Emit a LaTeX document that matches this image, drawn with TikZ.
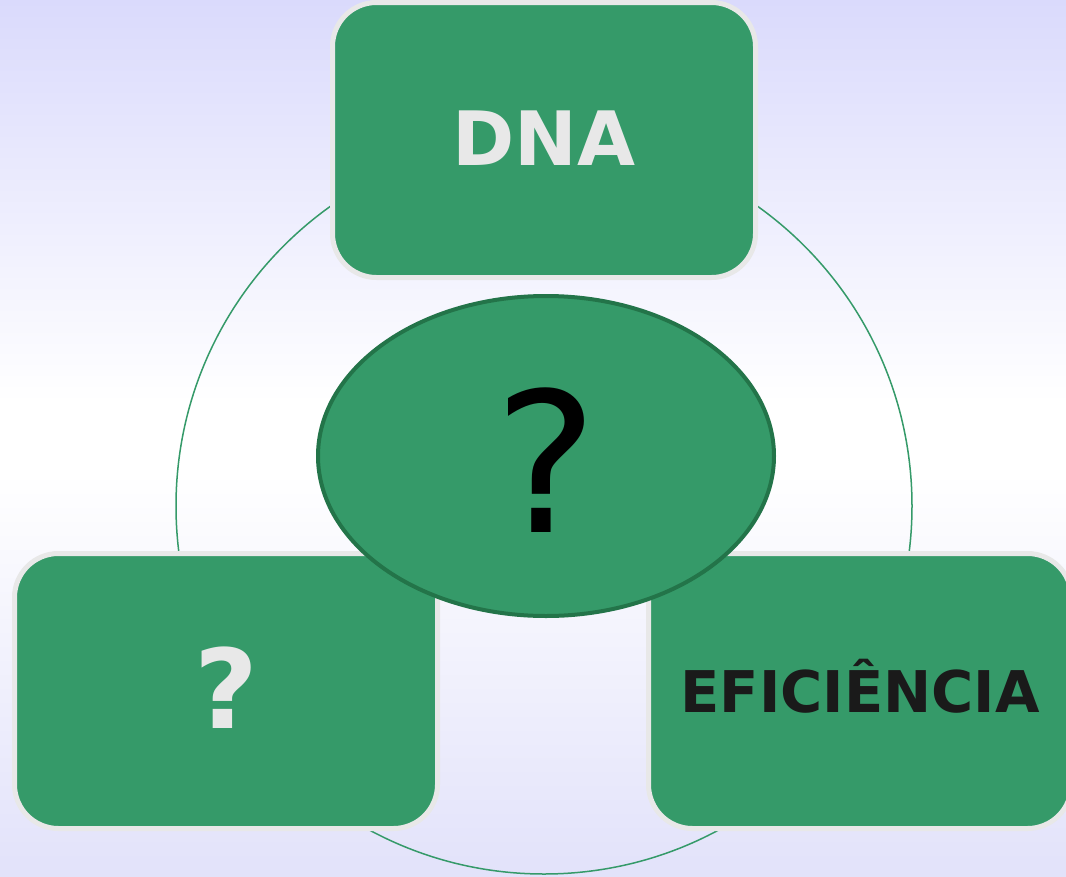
\documentclass[tikz,border=0pt]{standalone}
\usepackage{fontspec}
\setmainfont{DejaVu Sans}
\usetikzlibrary{shapes.geometric}
\definecolor{boxgreen}{HTML}{359A69}
\definecolor{edgegray}{HTML}{E8E8E8}
\definecolor{ellipseedge}{HTML}{237449}
\definecolor{bgtop}{HTML}{DADAFC}
\definecolor{bgbot}{HTML}{E2E2FA}
\definecolor{darktext}{HTML}{1A1A1A}
\pgfdeclareverticalshading{bgshade}{100bp}{color(0bp)=(bgbot); color(25bp)=(bgbot); color(48bp)=(white); color(52bp)=(white); color(75bp)=(bgtop); color(100bp)=(bgtop)}
\tikzset{
  box/.style={rectangle, rounded corners=44pt, fill=boxgreen, draw=edgegray,
    line width=5pt, minimum width=423pt, minimum height=275pt, inner sep=0pt},
  ringstyle/.style={circle, draw=boxgreen, line width=1.5pt, minimum size=736pt, inner sep=0pt},
  hub/.style={ellipse, fill=boxgreen, draw=ellipseedge, line width=4pt,
    minimum width=456pt, minimum height=320pt, inner sep=0pt}
}
\begin{document}
\begin{tikzpicture}[x=1pt,y=-1pt]
\useasboundingbox (0,0) rectangle (1066,876);
\clip (0,0) rectangle (1066,876);
\shade[shading=bgshade] (0,876) rectangle (1066,0);
\node[ringstyle] (ring) at (544,506) {};
\node[box, font=\bfseries\fontsize{75}{75}\selectfont, text=edgegray,
  text height=55pt, text depth=5pt] (dna) at (544,140) {DNA};
\node[box, font=\bfseries\fontsize{110}{110}\selectfont, text=edgegray,
  text height=80pt, text depth=6pt] (left) at (226,691) {?};
\node[box, font=\bfseries\fontsize{57.5}{57.5}\selectfont, text=darktext,
  text height=42pt, text depth=0pt] (right) at (860,691) {EFICIÊNCIA};
\node[hub, font=\fontsize{195}{195}\selectfont, text=black,
  text height=152pt, text depth=0pt] (center) at (546,456) {?};
\end{tikzpicture}
\end{document}
